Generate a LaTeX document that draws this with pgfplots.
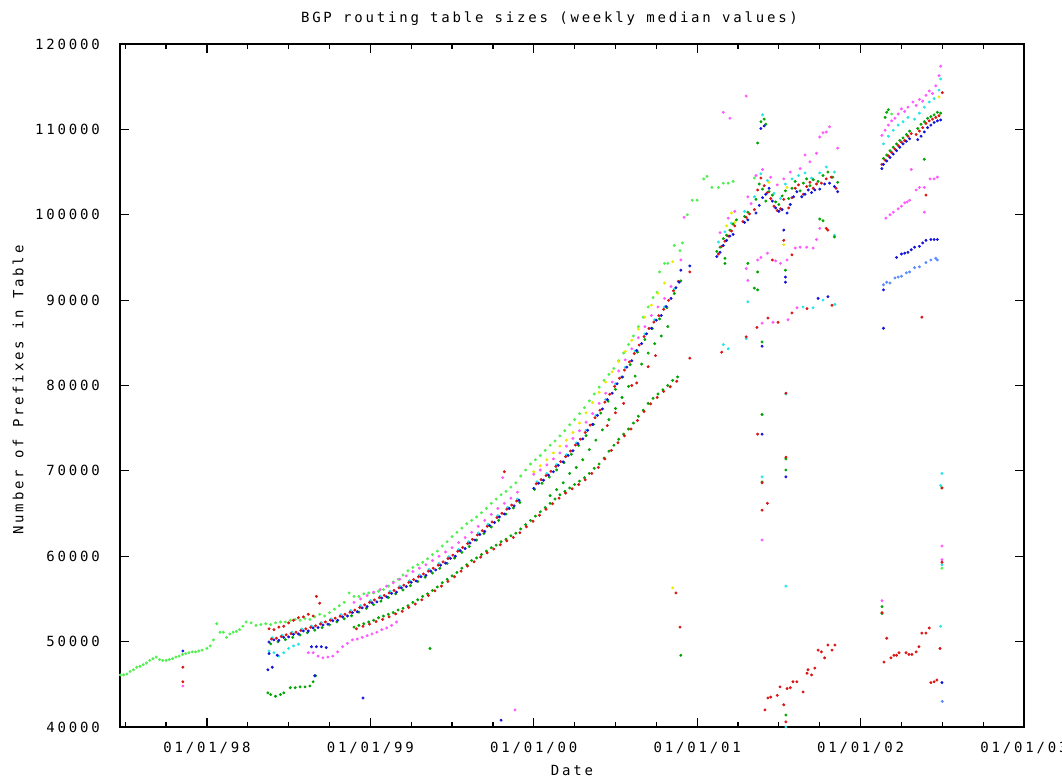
\documentclass[border=0pt]{standalone}
\usepackage{fontspec}
\setmainfont{DejaVu Sans Mono}[LetterSpace=20]
\usepackage{pgfplots}
\pgfplotsset{compat=1.18}
\definecolor{gpred}{RGB}{220,20,20}
\definecolor{gplgreen}{RGB}{80,240,80}
\definecolor{gpdgreen}{RGB}{0,165,0}
\definecolor{gpblue}{RGB}{20,20,220}
\definecolor{gpmag}{RGB}{255,90,255}
\definecolor{gpcyan}{RGB}{40,230,230}
\definecolor{gpyellow}{RGB}{235,235,0}
\definecolor{gplblue}{RGB}{90,140,255}
\newcommand\gp{\fontsize{10.5}{12}\selectfont}
\begin{document}
\begin{tikzpicture}
\begin{axis}[
  scale only axis, width=678pt, height=512.25pt,
  xmin=1997.468, xmax=2003, ymin=40000, ymax=120000,
  scaled x ticks=false, scaled y ticks=false,
  xtick={1998,1999,2000,2001,2002,2003},
  xticklabels={01/01/98,01/01/99,01/01/00,01/01/01,01/01/02,01/01/03},
  minor xtick={1997.5,1997.75,1998.25,1998.5,1998.75,1999.25,1999.5,1999.75,2000.25,2000.5,2000.75,2001.25,2001.5,2001.75,2002.25,2002.5,2002.75},
  ytick={40000,50000,60000,70000,80000,90000,100000,110000,120000},
  yticklabels={40000,50000,60000,70000,80000,90000,100000,110000,120000},
  tick align=inside, major tick length=7pt, minor tick length=3.5pt,
  axis line style={line width=0.9pt},
  every tick/.style={black, line width=0.9pt},
  xticklabel style={font=\gp, anchor=center, yshift=-15.75pt},
  yticklabel style={font=\gp, anchor=east, inner sep=0pt, xshift=-15pt},
  title={BGP routing table sizes (weekly median values)},
  title style={font=\gp, at={(axis description cs:0.4751,1.026)}, anchor=center, yshift=0pt},
  xlabel={Date},
  xlabel style={font=\gp, at={(axis description cs:0.5,-0.0644)}, anchor=center},
  ylabel={Number of Prefixes in Table},
  ylabel style={font=\gp, at={(axis description cs:-0.1128,0.4934)}, anchor=center, rotate=0},
  every axis plot/.append style={only marks, mark=*, mark size=0.9pt},
]
% light green (upper)
\addplot[color=gplgreen] coordinates {
(1997.47,46100)(1997.49,46100)(1997.51,46200)(1997.53,46500)(1997.55,46700)(1997.57,47000)(1997.59,47100)(1997.61,47300)(1997.63,47500)(1997.65,47800)(1997.67,48000)(1997.69,48200)(1997.71,47900)(1997.73,47800)(1997.75,47800)(1997.77,47900)(1997.79,48000)(1997.81,48200)(1997.83,48300)(1997.85,48500)(1997.87,48600)(1997.89,48700)(1997.91,48800)(1997.93,48800)(1997.95,48900)(1997.97,49000)(1998.00,49200)(1998.02,49500)(1998.04,50200)(1998.06,52100)(1998.08,51100)(1998.10,51100)(1998.12,50500)(1998.14,50900)(1998.16,51100)(1998.18,51200)(1998.20,51400)(1998.22,51800)(1998.24,52300)(1998.27,52200)(1998.30,51900)(1998.33,52000)(1998.36,52100)(1998.39,52000)(1998.42,52200)(1998.45,52300)(1998.48,52300)(1998.51,52500)(1998.54,52600)(1998.57,52500)(1998.60,52700)(1998.63,52600)(1998.66,52900)(1998.69,53200)(1998.72,53000)(1998.75,53400)(1998.78,53800)(1998.81,54200)(1998.84,54600)(1998.87,55700)(1998.90,55300)(1998.93,55300)(1998.96,55600)(1998.99,55700)(1999.02,55700)(1999.05,55900)(1999.08,56100)(1999.11,56500)(1999.14,57000)(1999.17,57300)(1999.20,57800)(1999.23,58300)(1999.26,58700)(1999.29,59000)(1999.32,59300)(1999.35,59700)(1999.38,60200)(1999.41,60600)(1999.44,61200)(1999.47,61700)(1999.50,62300)(1999.53,62800)(1999.56,63300)(1999.59,63800)(1999.62,64200)(1999.65,64600)(1999.68,65100)(1999.71,65600)(1999.74,66200)(1999.77,66700)(1999.80,67200)(1999.83,67600)(1999.86,68100)(1999.89,68600)(1999.92,69400)(1999.95,70100)(1999.98,70800)(2000.01,71300)(2000.04,71800)(2000.07,72400)(2000.10,73000)(2000.13,73500)(2000.16,74100)(2000.19,74700)(2000.22,75400)(2000.25,76000)(2000.28,76700)(2000.31,77400)(2000.34,78200)(2000.37,79000)(2000.40,79800)(2000.43,80600)(2000.46,81300)(2000.49,82000)(2000.52,82900)(2000.55,83800)(2000.58,84800)(2000.61,85800)(2000.64,86900)(2000.67,88000)(2000.70,89200)(2000.73,90300)(2000.755,90900)(2000.77,93300)(2000.80,94300)(2000.82,94300)(2000.86,96400)(2000.895,95800)(2000.91,96700)(2000.94,100000)(2000.97,101700)(2001.00,101700)(2001.04,104200)(2001.06,104500)(2001.09,103200)(2001.13,103200)(2001.16,103700)(2001.19,103700)(2001.22,103900)
(2002.498,58600)(2001.35,104300)(2002.19,111800)
};
% yellow
\addplot[color=gpyellow] coordinates {
(2000.00,69900)(2000.04,70600)(2000.08,71300)(2000.12,72100)(2000.16,72900)(2000.20,73600)(2000.24,74500)(2000.28,75600)(2000.32,76800)(2000.36,78000)(2000.40,79200)(2000.44,80400)(2000.48,81600)(2000.52,82800)(2000.56,84000)(2000.60,85300)(2000.64,86600)(2000.68,88000)(2000.72,89400)(2000.76,90800)(2000.80,92000)(2000.85,94500)(2000.85,56300)
(2001.18,98700)(2001.21,100200)(2001.23,99100)(2001.44,103800)(2001.53,96500)(2001.55,103200)(2002.48,113800)
};
% magenta
\addplot[color=gpmag] coordinates {
(1998.62,48700)(1998.65,48700)(1998.68,48300)(1998.71,48100)(1998.74,48200)(1998.77,48300)(1998.80,48800)(1998.83,49400)(1998.86,49800)(1998.89,50200)(1998.92,50300)(1998.95,50500)(1998.98,50700)(1999.01,50900)(1999.04,51100)(1999.07,51400)(1999.10,51600)(1999.13,51900)(1999.16,52300)
(1998.90,54600)(1998.94,55000)(1998.98,55400)(1999.02,55800)(1999.06,56100)(1999.10,56500)(1999.14,56900)(1999.18,57300)(1999.22,57700)(1999.26,58200)(1999.30,58600)(1999.34,59000)(1999.38,59500)(1999.42,60000)(1999.46,60500)(1999.50,61000)(1999.54,61600)(1999.58,62200)(1999.62,62800)(1999.66,63500)(1999.70,64200)(1999.74,64900)(1999.78,65600)(1999.82,66200)(1999.86,66800)(1999.90,67500)(2000.00,69600)(2000.04,70100)(2000.08,70700)(2000.12,71400)(2000.16,72100)(2000.20,72900)(2000.24,73800)(2000.28,74700)(2000.32,75700)(2000.36,76700)(2000.40,77900)(2000.44,79100)(2000.48,80400)(2000.52,81700)(2000.56,83000)(2000.60,84300)(2000.64,85600)(2000.68,86900)(2000.72,88200)(2000.76,89200)(2000.80,90200)(2000.84,91600)
(1997.853,44800)(1999.81,69200)(1999.885,42000)(2000.90,94700)(2000.92,99700)
(2001.30,93700)(2001.31,92300)(2001.37,94700)(2001.39,95000)(2001.43,95500)(2001.48,94600)(2001.51,94300)(2001.55,94700)(2001.60,96100)(2001.63,96200)(2001.67,96200)(2001.71,96100)
(2001.14,97900)(2001.19,99600)(2001.23,100400)(2001.33,101300)(2001.36,104600)(2001.40,105300)(2001.45,104400)(2001.49,103500)(2001.53,104200)(2001.57,105000)(2001.63,105400)(2001.66,107000)(2001.69,106200)(2001.73,107200)(2001.75,109100)(2001.77,109600)(2001.79,109700)(2001.81,110300)(2001.86,107800)
(2001.16,112000)(2001.20,111300)(2001.30,113900)(2001.397,61900)(2001.31,102100)(2001.397,87300)(2001.464,87400)(2001.556,87700)(2001.611,89100)(2001.73,97100)(2001.75,98400)
(2002.13,109300)(2002.15,109900)(2002.17,110500)(2002.19,111000)(2002.21,111300)(2002.23,111800)(2002.25,112400)(2002.27,112100)(2002.29,112600)(2002.32,113200)(2002.34,112800)(2002.36,113500)(2002.38,113300)(2002.40,114000)(2002.42,114500)(2002.44,114200)(2002.46,115100)(2002.48,116300)(2002.49,117400)
(2002.155,99600)(2002.18,100000)(2002.20,100300)(2002.23,100700)(2002.25,101000)(2002.27,101400)(2002.285,101500)(2002.30,101700)(2002.34,102900)(2002.36,103200)(2002.39,103200)(2002.425,104200)(2002.45,104200)(2002.47,104400)
(2002.131,54800)(2002.498,61200)(2002.498,59600)(2002.31,105300)(2002.39,100300)
};
% cyan
\addplot[color=gpcyan] coordinates {
(1998.38,48900)(1998.41,48700)(1998.44,48300)(1998.47,48700)(1998.50,49200)(1998.53,49500)(1998.56,49700)
(1998.40,50450)(1998.46,50730)(1998.52,51110)(1998.58,51480)(1998.64,51830)(1998.70,52250)(1998.76,52680)(1998.82,53160)(1998.88,53640)(1998.94,54200)(1999.00,54800)(1999.06,55340)(1999.12,55900)(1999.18,56500)(1999.24,57140)(1999.30,57800)(1999.36,58460)(1999.42,59160)(1999.48,59940)(1999.54,60790)(1999.60,61700)(1999.66,62720)(1999.72,63740)(1999.78,64760)(1999.84,65740)(1999.90,66700)(2000.02,68720)(2000.08,69680)(2000.14,70760)(2000.20,71900)(2000.26,73280)(2000.32,74780)(2000.38,76520)(2000.44,78360)(2000.50,80200)(2000.56,82120)(2000.62,84060)(2000.68,86040)(2000.74,87700)(2000.80,89200)(2000.86,91300)
(2001.13,96800)(2001.17,98000)(2001.21,99000)(2001.29,100400)(2001.35,102100)(2001.39,104800)(2001.43,104000)(2001.47,102500)(2001.51,101900)(2001.54,103600)(2001.58,104200)(2001.62,104600)(2001.66,104900)(2001.70,104300)(2001.75,104900)(2001.79,105600)(2001.84,105000)
(2001.397,69300)(2001.40,111700)(2001.543,79000)(2001.543,56500)(2001.543,40000)(2001.16,84800)(2001.19,84300)(2001.30,85500)(2001.31,89800)(2001.648,89200)(2001.709,89100)(2001.77,90000)(2001.843,89500)(2001.84,97600)
(2002.14,108300)(2002.17,109200)(2002.20,109900)(2002.23,110500)(2002.26,110900)(2002.29,111400)(2002.33,111200)(2002.36,111900)(2002.39,112600)(2002.42,113200)(2002.45,113600)(2002.48,114600)(2002.49,115900)
(2002.498,69700)(2002.49,68300)(2002.498,59000)(2002.49,51800)
};
% light blue
\addplot[color=gplblue] coordinates {
(2002.14,91800)(2002.16,92100)(2002.18,92000)(2002.21,92600)(2002.23,92700)(2002.25,92800)(2002.28,93200)(2002.30,93300)(2002.33,93800)(2002.36,93900)(2002.40,94400)(2002.43,94700)(2002.46,94900)(2002.47,94700)(2002.50,43000)
};
% dark green
\addplot[color=gpdgreen] coordinates {
(1998.373,44000)(1998.39,43800)(1998.42,43600)(1998.45,43800)(1998.47,44000)(1998.51,44600)(1998.54,44600)(1998.57,44700)(1998.60,44700)(1998.63,44800)(1998.65,45300)(1998.665,46000)
(1998.39,49740)(1998.435,49990)(1998.48,50240)(1998.525,50500)(1998.57,50770)(1998.615,51050)(1998.66,51340)(1998.705,51640)(1998.75,51980)(1998.795,52310)(1998.84,52670)(1998.885,53030)(1998.93,53450)(1998.975,53900)(1999.02,54330)(1999.065,54740)(1999.11,55150)(1999.155,55600)(1999.20,56050)(1999.245,56550)(1999.29,57040)(1999.335,57540)(1999.38,58030)(1999.425,58580)(1999.47,59160)(1999.515,59780)(1999.56,60450)(1999.605,61140)(1999.65,61900)(1999.695,62670)(1999.74,63430)(1999.785,64200)(1999.83,64930)(1999.875,65650)(1999.915,66300)(2000.005,67830)(2000.05,68550)(2000.095,69270)(2000.14,70110)(2000.185,70970)(2000.23,71940)(2000.275,72980)(2000.32,74130)(2000.365,75440)(2000.41,76760)(2000.455,78160)(2000.50,79550)(2000.545,80990)(2000.59,82430)(2000.635,83910)(2000.68,85390)(2000.725,86680)(2000.77,87800)(2000.815,89110)(2000.86,90770)(2000.90,92250)
(1998.90,51700)(1998.93,51900)(1998.96,52100)(1998.99,52300)(1999.02,52500)(1999.05,52800)(1999.08,53000)(1999.11,53200)(1999.14,53400)(1999.17,53700)(1999.20,53900)(1999.23,54200)(1999.26,54600)(1999.29,54900)(1999.32,55300)(1999.35,55600)(1999.38,56000)(1999.41,56400)(1999.44,56900)(1999.47,57300)(1999.50,57700)(1999.53,58100)(1999.56,58600)(1999.59,59000)(1999.62,59500)(1999.65,59800)(1999.68,60200)(1999.71,60600)(1999.74,61000)(1999.77,61300)(1999.80,61700)(1999.83,62000)(1999.86,62400)(1999.89,62700)(1999.92,63200)(1999.95,63700)(1999.98,64200)(2000.01,64700)(2000.04,65200)(2000.07,65700)(2000.10,66200)(2000.13,66700)(2000.16,67200)(2000.19,67600)(2000.22,68000)(2000.25,68400)(2000.28,68800)(2000.31,69200)(2000.34,69700)(2000.37,70300)(2000.40,70800)(2000.43,71500)(2000.46,72300)(2000.49,73000)(2000.52,73700)(2000.55,74300)(2000.58,74900)(2000.61,75600)(2000.64,76400)(2000.67,77100)(2000.70,77900)(2000.73,78500)(2000.76,79000)(2000.79,79500)(2000.82,80000)(2000.85,80600)(2000.88,81000)
(2000.10,67100)(2000.14,67800)(2000.18,68600)(2000.22,69700)(2000.26,70400)(2000.30,71300)(2000.34,72500)(2000.38,73600)(2000.42,74800)(2000.46,76000)(2000.50,77300)(2000.54,78600)(2000.58,79900)(2000.62,81100)(2000.66,82500)(2000.70,83800)(2000.74,84900)(2000.78,85800)(2000.82,86900)
(2001.12,95700)(2001.14,96200)(2001.16,97200)(2001.18,97600)(2001.20,98200)(2001.22,98900)(2001.24,99400)(2001.29,99800)(2001.31,100300)(2001.36,101800)(2001.38,103600)(2001.40,103000)(2001.42,101600)(2001.44,102700)(2001.46,102300)(2001.48,101500)(2001.50,101200)(2001.52,102200)(2001.54,102800)(2001.56,101900)(2001.58,103100)(2001.60,103900)(2001.63,102800)(2001.65,103700)(2001.67,104200)(2001.69,103400)(2001.71,104100)(2001.74,103900)(2001.77,104600)(2001.80,105000)(2001.83,104400)(2001.86,103800)
(1999.365,49200)(2000.90,48400)(2001.397,85100)(2001.397,76600)(2001.397,68700)(2001.543,71400)(2001.543,70100)(2001.543,41400)(2001.39,110900)(2001.41,111200)(2001.42,110600)(2001.37,108400)(2001.17,94900)(2001.17,94300)(2001.31,94300)(2001.37,93300)(2001.35,91400)(2001.37,91200)(2001.54,93500)(2001.75,99500)(2001.77,99300)(2001.84,97400)
(2002.14,106600)(2002.16,107000)(2002.18,107500)(2002.20,107900)(2002.22,108300)(2002.24,108700)(2002.26,109000)(2002.28,109400)(2002.30,109800)(2002.35,110100)(2002.37,110600)(2002.39,110900)(2002.41,111300)(2002.43,111500)(2002.45,111700)(2002.47,112000)(2002.49,111900)
(2002.131,54100)(2002.131,53300)(2002.498,68000)(2002.16,112000)(2002.17,112300)(2002.15,111400)(2002.39,106500)
};
% red
\addplot[color=gpred] coordinates {
(1998.38,51500)(1998.41,51400)(1998.44,51700)(1998.47,51800)(1998.50,52200)(1998.53,52500)(1998.56,52800)(1998.59,52900)(1998.62,53200)(1998.65,53000)(1998.67,55300)(1998.69,54500)
(1998.395,50300)(1998.425,50400)(1998.455,50600)(1998.485,50800)(1998.515,50940)(1998.545,51100)(1998.575,51300)(1998.605,51500)(1998.635,51680)(1998.665,51850)(1998.695,52070)(1998.725,52300)(1998.755,52510)(1998.785,52750)(1998.815,52970)(1998.845,53200)(1998.875,53450)(1998.905,53700)(1998.935,54000)(1998.965,54300)(1998.995,54600)(1999.025,54880)(1999.055,55150)(1999.085,55420)(1999.115,55700)(1999.145,56000)(1999.175,56300)(1999.205,56610)(1999.235,56940)(1999.265,57270)(1999.295,57600)(1999.325,57930)(1999.355,58260)(1999.385,58590)(1999.415,58950)(1999.445,59340)(1999.475,59730)(1999.505,60130)(1999.535,60580)(1999.565,61030)(1999.595,61480)(1999.625,61980)(1999.655,62490)(1999.685,63000)(1999.715,63510)(1999.745,64020)(1999.775,64530)(1999.805,65030)(1999.835,65510)(1999.865,65990)(1999.895,66470)(2000.015,68490)(2000.045,68970)(2000.075,69450)(2000.105,69950)(2000.135,70520)(2000.165,71090)(2000.195,71660)(2000.225,72330)(2000.255,73020)(2000.285,73710)(2000.315,74490)(2000.345,75360)(2000.375,76230)(2000.405,77110)(2000.435,78040)(2000.465,78970)(2000.495,79900)(2000.525,80850)(2000.555,81810)(2000.585,82770)(2000.615,83750)(2000.645,84740)(2000.675,85730)(2000.705,86680)(2000.735,87430)(2000.765,88180)(2000.795,88930)(2000.825,89980)(2000.855,91090)(2000.885,92200)
(1998.915,51500)(1998.955,51800)(1998.995,52050)(1999.035,52350)(1999.075,52600)(1999.115,52900)(1999.155,53250)(1999.195,53550)(1999.235,54000)(1999.275,54400)(1999.315,54900)(1999.355,55400)(1999.395,55950)(1999.435,56500)(1999.475,57050)(1999.515,57600)(1999.555,58250)(1999.595,58850)(1999.635,59350)(1999.675,59900)(1999.715,60400)(1999.755,60850)(1999.795,61350)(1999.835,61800)(1999.875,62200)(1999.915,62750)(1999.955,63450)(1999.995,64100)(2000.035,64800)(2000.075,65500)(2000.115,66150)(2000.155,66800)(2000.195,67400)(2000.235,67900)(2000.275,68400)(2000.315,68950)(2000.355,69700)(2000.395,70400)(2000.435,71400)(2000.475,72400)(2000.515,73300)(2000.555,74100)(2000.595,74900)(2000.635,75900)(2000.675,76950)(2000.715,77850)(2000.755,78600)(2000.795,79300)(2000.835,79850)(2000.875,80500)
(2000.45,75300)(2000.50,76800)(2000.55,77900)(2000.60,80000)(2000.63,80300)(2000.70,82200)(2000.745,83500)
(1997.853,47000)(1997.853,45300)(1999.82,69900)(2000.87,55700)(2000.895,51700)(2000.955,83200)(2000.955,93300)(2001.15,83900)(2001.30,85700)
(2001.13,95400)(2001.15,96300)(2001.17,96900)(2001.19,97500)(2001.21,98100)(2001.23,98700)(2001.28,99200)(2001.30,99700)(2001.32,100100)(2001.35,100600)(2001.37,102900)(2001.39,104300)(2001.41,103400)(2001.43,102600)(2001.45,101900)(2001.47,101000)(2001.49,100500)(2001.51,100700)(2001.53,101800)(2001.56,100800)(2001.58,102000)(2001.60,103100)(2001.62,103500)(2001.65,102400)(2001.67,103300)(2001.69,103800)(2001.71,103100)(2001.73,103600)(2001.76,103700)(2001.79,104200)(2001.82,104400)(2001.85,103100)
(2001.37,74300)(2001.397,68600)(2001.43,66200)(2001.397,65400)(2001.543,79100)(2001.543,71600)(2001.53,42600)(2001.543,40600)(2001.46,94700)(2001.58,95300)(2001.79,98400)(2001.80,98200)(2001.53,97000)
(2001.366,86800)(2001.433,87900)(2001.495,87400)(2001.58,88500)(2001.672,89000)(2001.825,89400)
(2001.415,42000)(2001.433,43400)(2001.45,43500)(2001.49,43700)(2001.507,44700)(2001.55,44500)(2001.57,44600)(2001.586,45300)(2001.61,45300)(2001.648,44100)(2001.672,46300)(2001.678,46700)(2001.70,46100)(2001.72,46900)(2001.74,49000)(2001.76,48800)(2001.78,48100)(2001.80,49600)(2001.825,49000)(2001.843,49600)
(2002.13,105900)(2002.15,106400)(2002.17,106900)(2002.19,107300)(2002.21,107700)(2002.23,108100)(2002.25,108500)(2002.27,108700)(2002.29,109200)(2002.31,109500)(2002.34,109400)(2002.36,109800)(2002.38,110200)(2002.40,110700)(2002.42,111000)(2002.44,111200)(2002.46,111400)(2002.48,111600)(2002.50,114300)
(2002.143,47600)(2002.16,50400)(2002.186,48100)(2002.204,48400)(2002.22,48400)(2002.235,48700)(2002.278,48700)(2002.296,48500)(2002.314,48500)(2002.34,48800)(2002.357,49400)(2002.375,51000)(2002.40,51000)(2002.42,51600)(2002.43,45200)(2002.45,45300)(2002.467,45500)(2002.486,49200)
(2002.131,53400)(2002.498,68000)(2002.498,59300)(2002.375,88000)(2002.40,102300)
};
% blue
\addplot[color=gpblue] coordinates {
(1998.38,49950)(1998.41,50200)(1998.44,50150)(1998.47,50500)(1998.50,50550)(1998.53,50850)(1998.56,50900)(1998.59,51250)(1998.62,51250)(1998.65,51600)(1998.68,51650)(1998.71,51950)(1998.74,52050)(1998.77,52450)(1998.80,52500)(1998.83,52900)(1998.86,53000)(1998.89,53400)(1998.92,53500)(1998.95,53950)(1998.98,54100)(1999.01,54550)(1999.04,54650)(1999.07,55100)(1999.10,55250)(1999.13,55650)(1999.16,55800)(1999.19,56300)(1999.22,56450)(1999.25,56950)(1999.28,57100)(1999.31,57600)(1999.34,57750)(1999.37,58250)(1999.40,58400)(1999.43,58950)(1999.46,59200)(1999.49,59750)(1999.52,60000)(1999.55,60650)(1999.58,60900)(1999.61,61550)(1999.64,61900)(1999.67,62550)(1999.70,62900)(1999.73,63600)(1999.76,63950)(1999.79,64600)(1999.82,64950)(1999.85,65600)(1999.88,65900)(1999.91,66550)(2000.00,67950)(2000.03,68550)(2000.06,68900)(2000.09,69500)(2000.12,69900)(2000.15,70650)(2000.18,71050)(2000.21,71800)(2000.24,72350)(2000.27,73200)(2000.30,73750)(2000.33,74750)(2000.36,75450)(2000.39,76500)(2000.42,77250)(2000.45,78350)(2000.48,79100)(2000.51,80200)(2000.54,81000)(2000.57,82150)(2000.60,82900)(2000.63,84100)(2000.66,84900)(2000.69,86050)(2000.72,86700)(2000.75,87650)(2000.78,88200)(2000.81,89250)(2000.84,90200)(2000.87,91450)(2000.89,92100)(2000.90,93500)
(1998.373,46700)(1998.40,47000)(1998.38,48600)(1998.43,48400)(1998.64,49400)(1998.67,49400)(1998.70,49400)(1998.73,49300)(1998.66,46000)(1998.955,43400)(1997.853,48900)(1999.80,40800)(2000.955,94000)
(2001.12,95100)(2001.14,95600)(2001.16,96400)(2001.18,97000)(2001.20,97500)(2001.22,97700)(2001.29,99100)(2001.31,99400)(2001.36,100200)(2001.38,101100)(2001.40,102000)(2001.42,102400)(2001.44,103100)(2001.46,101600)(2001.48,100800)(2001.50,100400)(2001.52,100600)(2001.55,100200)(2001.57,101200)(2001.59,102100)(2001.61,102700)(2001.64,102100)(2001.66,102400)(2001.68,102900)(2001.70,102600)(2001.72,102900)(2001.75,103000)(2001.78,103600)(2001.81,103700)(2001.84,103300)(2001.86,102700)
(2001.397,84600)(2001.397,74300)(2001.543,69300)(2001.39,110100)(2001.41,110400)(2001.53,98200)(2001.54,92700)(2001.54,92100)(2001.80,90400)(2001.74,90200)
(2002.13,105400)(2002.14,105900)(2002.16,106300)(2002.18,106700)(2002.20,107100)(2002.22,107500)(2002.24,107900)(2002.26,108300)(2002.28,108600)(2002.30,108900)(2002.35,108800)(2002.37,109200)(2002.39,109700)(2002.41,110200)(2002.43,110500)(2002.45,110800)(2002.47,111000)(2002.49,111100)
(2002.22,95000)(2002.25,95400)(2002.27,95500)(2002.29,95600)(2002.31,95900)(2002.33,96200)(2002.36,96300)(2002.38,96700)(2002.40,97000)(2002.43,97100)(2002.45,97100)(2002.47,97100)
(2002.14,86700)(2002.14,91200)(2002.498,45200)
};
\end{axis}
\pgfresetboundingbox
\path ([shift={(-90pt,-39.75pt)}]current axis.south west) rectangle ([shift={(28.5pt,33pt)}]current axis.north east);
\end{tikzpicture}
\end{document}
